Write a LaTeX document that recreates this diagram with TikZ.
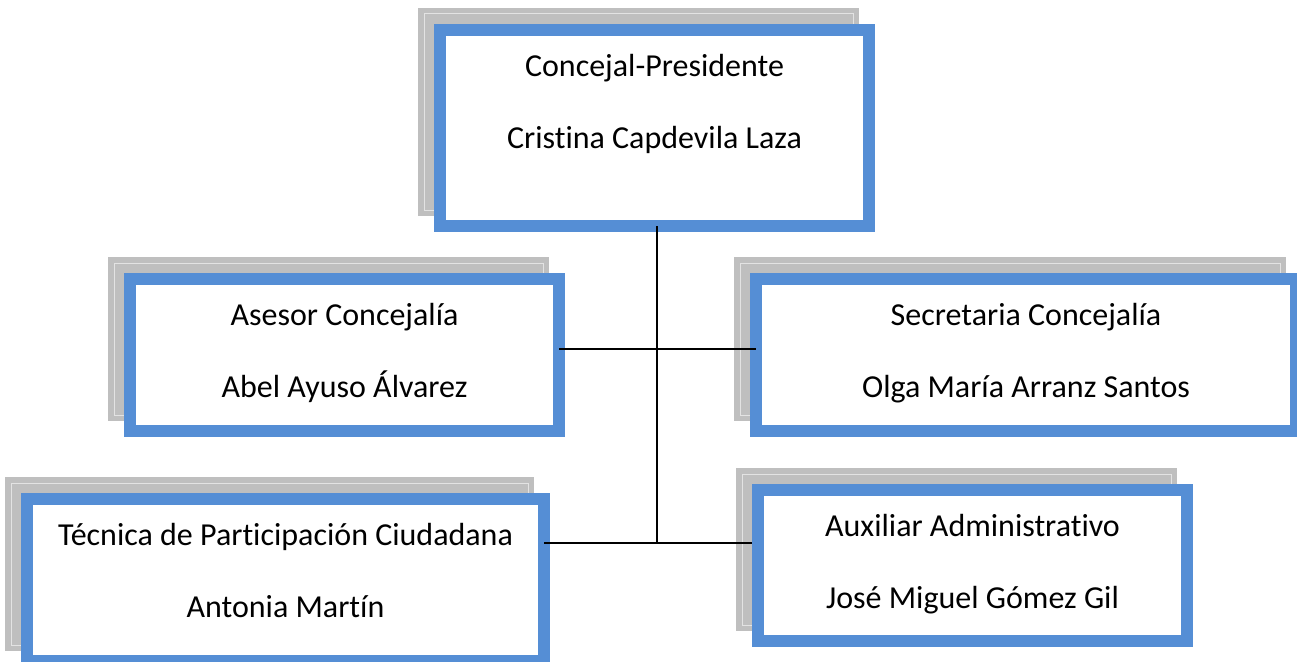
\documentclass[tikz,border=0pt]{standalone}
\usepackage{fontspec}
\setmainfont[Ligatures=NoCommon]{Carlito}
\definecolor{boxblue}{HTML}{558ED5}
\definecolor{shadowgray}{HTML}{BFBFBF}
\definecolor{shadowline}{HTML}{E3E3E3}
\tikzset{
  bluebox/.style={draw=boxblue,fill=white,line width=12pt,rectangle,inner sep=0pt,outer sep=0pt},
  txt/.style={anchor=base,inner sep=0pt,font=\fontsize{32}{38}\selectfont},
  conn/.style={draw=black,line width=2pt},
  shadowfill/.style={fill=shadowgray},
  shadowedge/.style={draw=shadowline,line width=1pt}
}
\newcommand{\shadowrect}[4]{%
  \fill[shadowfill] (#1,#2) rectangle (#3,#4);
  \draw[shadowedge] (#1+6,#2+6) rectangle (#3-6,#4-6);}
\begin{document}
\begin{tikzpicture}[x=1pt,y=-1pt]
\useasboundingbox (0,0) rectangle (1297,661);
\clip (0,0) rectangle (1297,661);
\fill[white] (0,0) rectangle (1297,661);
% shadows
\shadowrect{418}{8}{859}{216}
\shadowrect{108}{257}{549}{421}
\shadowrect{734}{257}{1286}{421}
\shadowrect{5}{477}{534}{651}
\shadowrect{736}{468}{1177}{631}
% boxes
\node[bluebox,minimum width=429pt,minimum height=196pt] (pres) at (654.5,128) {};
\node[bluebox,minimum width=429pt,minimum height=152pt] (ase) at (344.5,355) {};
\node[bluebox,minimum width=540pt,minimum height=152pt] (sec) at (1026,355) {};
\node[bluebox,minimum width=517pt,minimum height=162pt] (tec) at (285.5,580) {};
\node[bluebox,minimum width=429pt,minimum height=151pt] (aux) at (972.5,565.5) {};
% texts
\node[txt] (pres1) at (654.5,77) {Concejal-Presidente};
\node[txt] (pres2) at (654.5,148) {Cristina Capdevila Laza};
\node[txt] (ase1) at (344.5,325) {Asesor Concejalía};
\node[txt] (ase2) at (344.5,397) {Abel Ayuso Álvarez};
\node[txt] (sec1) at (1026,325) {Secretaria Concejalía};
\node[txt] (sec2) at (1026,397) {Olga María Arranz Santos};
\node[txt] (tec1) at (285.5,545) {Técnica de Participación Ciudadana};
\node[txt] (tec2) at (285.5,617) {Antonia Martín};
\node[txt] (aux1) at (972.5,536) {Auxiliar Administrativo};
\node[txt] (aux2) at (972.5,608) {José Miguel Gómez Gil};
% connectors
\coordinate (j1) at (657,349);
\coordinate (j2) at (657,543);
\draw[conn] (pres.south -| j1) -- (j2);
\draw[conn] (ase.east |- j1) -- (sec.west |- j1);
\draw[conn,shorten >=6pt] (tec.east |- j2) -- (aux.west |- j2);
\end{tikzpicture}
\end{document}
